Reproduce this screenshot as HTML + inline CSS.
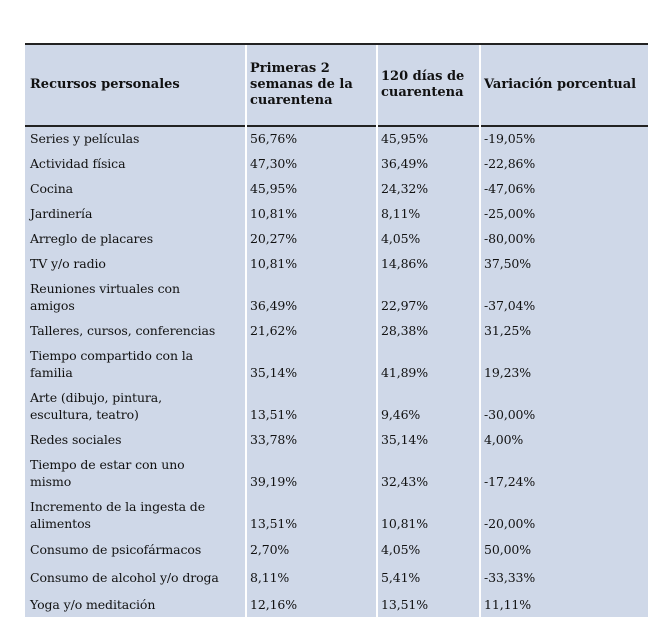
<!DOCTYPE html>
<html><head><meta charset="utf-8"><style>
body{margin:0;width:654px;height:621px;background:#fff;position:relative;overflow:hidden;font-family:"DejaVu Serif","Liberation Serif",serif;color:#111}
#tbl{position:absolute;left:25px;top:43px;width:623px;height:572px;background:#cfd8e8;border-top:2px solid #222}
.hl{position:absolute;left:0;width:623px;top:80px;height:2px;background:#222}
.vl{position:absolute;top:0;bottom:0;width:2px;background:#fff}
.c{position:absolute;font-size:12.5px;line-height:17px;display:flex;align-items:center;letter-spacing:-0.1px}
.h{font-weight:bold;font-size:13px;line-height:16px;letter-spacing:0}
</style></head><body>
<div id="tbl">
<div class="hl"></div>
<div class="vl" style="left:220px"></div>
<div class="vl" style="left:351px"></div>
<div class="vl" style="left:454px"></div>
<div id="rows"></div>
</div>
<script>
const headers=["Recursos personales","Primeras 2 semanas de la cuarentena","120 días de cuarentena","Variación porcentual"];
const names=["Series y películas","Actividad física","Cocina","Jardinería","Arreglo de placares","TV y/o radio","Reuniones virtuales con amigos","Talleres, cursos, conferencias","Tiempo compartido con la familia","Arte (dibujo, pintura, escultura, teatro)","Redes sociales","Tiempo de estar con uno mismo","Incremento de la ingesta de alimentos","Consumo de psicofármacos","Consumo de alcohol y/o droga","Yoga y/o meditación"];
const first=["56,76%","47,30%","45,95%","10,81%","20,27%","10,81%","36,49%","21,62%","35,14%","13,51%","33,78%","39,19%","13,51%","2,70%","8,11%","12,16%"];
const later=["45,95%","36,49%","24,32%","8,11%","4,05%","14,86%","22,97%","28,38%","41,89%","9,46%","35,14%","32,43%","10,81%","4,05%","5,41%","13,51%"];
const change=["-19,05%","-22,86%","-47,06%","-25,00%","-80,00%","37,50%","-37,04%","31,25%","19,23%","-30,00%","4,00%","-17,24%","-20,00%","50,00%","-33,33%","11,11%"];
const rows=document.getElementById('rows');
const colX=[5,225,356,459], colW=[190,120,95,165];
const heads=[180,112,90,165];
headers.forEach((t,i)=>{const d=document.createElement('div');d.className='c h';


d.style.left=colX[i]+'px';d.style.top='0px';d.style.height='80px';d.style.width=heads[i]+'px';d.textContent=t;rows.appendChild(d);});
const heights=[25,25,25,25,25,25,42,25,42,42,25,42,42,26,30,25];
let y=81;
names.forEach((n,r)=>{const vals=[n,first[r],later[r],change[r]];
vals.forEach((v,i)=>{const d=document.createElement('div');d.className='c';


d.style.left=colX[i]+'px';d.style.top=y+'px';d.style.height=heights[r]+'px';d.style.width=colW[i]+'px';
if(i>0&&heights[r]>30){d.style.alignItems='flex-end';d.style.paddingBottom='4px';d.style.height=(heights[r]-4)+'px';}
d.textContent=v;rows.appendChild(d);});
y+=heights[r];});
</script>
</body></html>
